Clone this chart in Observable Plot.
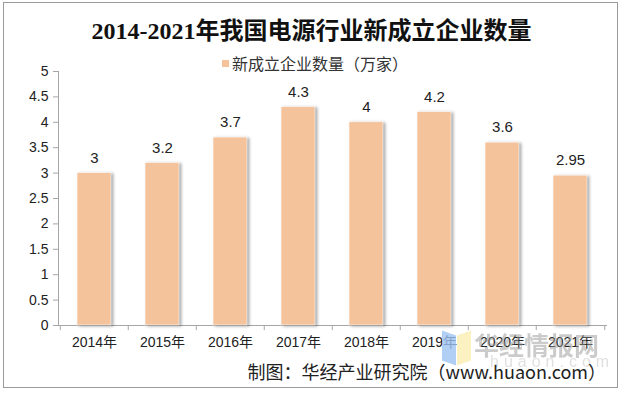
<!DOCTYPE html>
<html><head><meta charset="utf-8">
<script src="https://cdn.jsdelivr.net/npm/d3@7"></script>
<script src="https://cdn.jsdelivr.net/npm/@observablehq/plot@0.6"></script>
<style>
body{margin:0;background:#fff;}
#wrap{position:relative;width:623px;height:393px;overflow:hidden;font-family:"Liberation Sans","Noto Sans CJK SC",sans-serif;}
#border{position:absolute;left:3px;top:2px;width:613px;height:384px;border:1px solid #9a9a9a;}
#title{position:absolute;left:0;width:623px;top:11px;text-align:center;font-family:"Liberation Serif","Noto Sans CJK SC",serif;font-weight:bold;font-size:24px;color:#111;}
#legend{position:absolute;left:0;width:630px;top:51px;text-align:center;font-family:"Noto Sans CJK SC",sans-serif;font-size:16px;color:#333;}
#legend span.sw{display:inline-block;width:7px;height:7px;background:#F4C29B;margin-right:3px;vertical-align:middle;position:relative;top:-2px;}
#caption{position:absolute;right:17px;top:358px;font-family:"Noto Sans CJK SC",sans-serif;font-size:18px;color:#222;}
#chart{position:absolute;left:0;top:0;}
.wm{position:absolute;pointer-events:none;}
</style></head>
<body>
<div id="wrap">
  <div id="border"></div>
  <div id="chart"></div>
  <div class="wm" style="left:442px;top:333px;width:14px;height:30px;background:#9ec3f2;opacity:0.8;transform:skewY(20deg);"></div>
  <div class="wm" style="left:457px;top:333px;width:14px;height:30px;background:#fbeeb0;opacity:0.8;transform:skewY(-20deg);"></div>
  <div class="wm" style="left:474px;top:326px;font-family:'Noto Sans CJK SC';font-weight:bold;font-size:25px;color:#999;opacity:0.5;">华经情报网</div>
  <div class="wm" style="left:490px;top:353px;font-family:'Liberation Sans';font-size:16px;letter-spacing:5px;color:#bbb;opacity:0.45;">huaon.com</div>
  <div id="title">2014-2021年我国电源行业新成立企业数量</div>
  <div id="legend"><span class="sw"></span>新成立企业数量（万家）</div>
  <div id="caption">制图：华经产业研究院（www.huaon.com）</div>
</div>
<script>
const years = ["2014年","2015年","2016年","2017年","2018年","2019年","2020年","2021年"];
const values = [3, 3.2, 3.7, 4.3, 4, 4.2, 3.6, 2.95];
const labels = ["3","3.2","3.7","4.3","4","4.2","3.6","2.95"];
const yTicks = [0,0.5,1,1.5,2,2.5,3,3.5,4,4.5,5];

const data = years.map((y,i)=>({year:y, value:values[i], label:labels[i]}));
const W = 623, H = 393, mL = 58, mR = 17;
const step = (W - mL - mR) / years.length;

const plot = Plot.plot({
  width: W, height: H,
  marginTop: 71, marginBottom: 68, marginLeft: mL, marginRight: mR,
  style: {fontFamily: '"Liberation Sans","Noto Sans CJK SC",sans-serif', fontSize: "14px", color: "#222", background: "transparent"},
  x: {domain: years, paddingInner: 0.5, paddingOuter: 0.25, label: null},
  y: {domain: [0,5], label: null},
  marks: [
    Plot.frame({anchor: "left", stroke: "#a6a6a6"}),
    Plot.frame({anchor: "bottom", stroke: "#a6a6a6"}),
    Plot.axisY(yTicks, {tickSize: 5, tickPadding: 5, stroke: "#a6a6a6", fill: "#222", fontSize: 14, tickFormat: d => String(d), label: null}),
    Plot.axisX({tickSize: 0, tickPadding: 12, fill: "#222", fontSize: 14, label: null}),
    Plot.ruleX(years, {x: d => d, y1: 0, y2: -0.1, dx: -step/2, stroke: "#a6a6a6"}),
    Plot.ruleX([years[years.length-1]], {x: d => d, y1: 0, y2: -0.1, dx: step/2, stroke: "#a6a6a6"}),
    Plot.barY(data, {x: "year", y: "value", fill: "#F4C29B", stroke: "#fff", strokeWidth: 0.6,
      render: (i, s, v, d, c, next) => { const g = next(i, s, v, d, c); g.style.filter = "drop-shadow(2px 1px 1.5px rgba(0,0,0,0.35))"; return g; }}),
    Plot.text(data, {x: "year", y: "value", text: "label", dy: -15, fontSize: 15, fill: "#222"})
  ]
});
document.getElementById("chart").appendChild(plot);
</script>
</body></html>
